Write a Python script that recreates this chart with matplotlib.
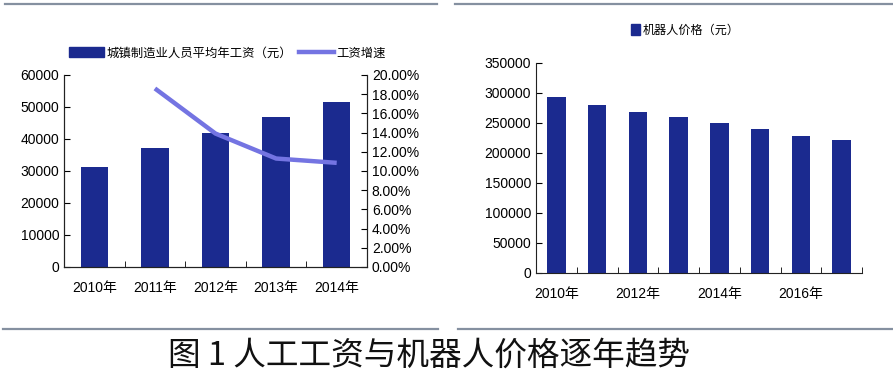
import numpy as np
import matplotlib.pyplot as plt
from matplotlib.lines import Line2D
from matplotlib.patches import Patch
from matplotlib.ticker import FuncFormatter

plt.rcParams['font.family'] = ['Liberation Sans', 'Noto Sans CJK SC', 'DejaVu Sans']

# left chart data
wage_years = ['2010年', '2011年', '2012年', '2013年', '2014年']
wages = [31200, 37200, 42000, 46900, 51700]
growth_years = ['2011年', '2012年', '2013年', '2014年']
growth = [0.186, 0.139, 0.113, 0.1085]

# right chart data
robot_years = ['2010年', '2011年', '2012年', '2013年', '2014年', '2015年', '2016年', '2017年']
robot_prices = [293000, 280000, 269000, 260000, 250000, 240000, 229000, 221000]

bar_color = '#1b2a8f'
line_color = '#7474e2'
rule_color = '#8590a0'

fig = plt.figure(figsize=(8.93, 3.78), dpi=100)

# ---- left: wages + growth ----
ax1 = fig.add_axes([64/893, 1-267/378, (367-64)/893, (267-75)/378])
x1 = np.arange(len(wage_years))
ax1.bar(x1, wages, width=0.45, color=bar_color)
ax1.set_xlim(-0.5, len(wage_years) - 0.5)
ax1.set_ylim(0, 60000)
ax1.set_yticks(np.arange(0, 60001, 10000))
ax1.set_xticks(x1)
ax1.set_xticklabels(wage_years)
ax1.set_xticks(np.arange(0.5, len(wage_years) - 1, 1), minor=True)
ax1.tick_params(axis='x', which='major', length=0, pad=10, labelsize=10)
ax1.tick_params(axis='x', which='minor', length=4, direction='in')
ax1.tick_params(axis='y', length=4, direction='in', labelsize=10)
ax1.spines['top'].set_visible(False)

ax2 = ax1.twinx()
gx = [wage_years.index(y) for y in growth_years]
ax2.plot(gx, growth, color=line_color, lw=3.2, solid_capstyle='butt')
ax2.set_ylim(0, 0.2)
ax2.set_yticks(np.arange(0, 0.2001, 0.02))
ax2.yaxis.set_major_formatter(FuncFormatter(lambda v, p: f'{v*100:.2f}%'))
ax2.tick_params(axis='y', length=4, direction='in', labelsize=10)
ax2.spines['top'].set_visible(False)
for a in (ax1, ax2):
    for s in a.spines.values():
        s.set_color('#222222')
        s.set_linewidth(0.8)

fig.legend(handles=[Patch(color=bar_color, label='城镇制造业人员平均年工资（元）'),
                    Line2D([], [], color=line_color, lw=3.2, label='工资增速')],
           loc='center left', bbox_to_anchor=(58/893, 1-53/378), ncol=2, frameon=False,
           handlelength=2.8, handleheight=0.9, handletextpad=0.2,
           columnspacing=0.6, prop={'family': ['Noto Sans CJK SC'], 'size': 8.9})

# ---- right: robot price ----
ax3 = fig.add_axes([536/893, 1-273/378, (862-536)/893, (273-63)/378])
x3 = np.arange(len(robot_years))
ax3.bar(x3, robot_prices, width=0.46, color=bar_color)
ax3.set_xlim(-0.5, len(robot_years) - 0.5)
ax3.set_ylim(0, 350000)
ax3.set_yticks(np.arange(0, 350001, 50000))
ax3.set_xticks(x3[::2])
ax3.set_xticklabels(robot_years[::2])
ax3.set_xticks(np.arange(0.5, len(robot_years), 1), minor=True)
ax3.tick_params(axis='x', which='major', length=0, pad=10, labelsize=10)
ax3.tick_params(axis='x', which='minor', length=4, direction='in')
ax3.tick_params(axis='y', length=4, direction='in', labelsize=10)
ax3.spines['top'].set_visible(False)
ax3.spines['right'].set_visible(False)
for s in ax3.spines.values():
    s.set_color('#222222')
    s.set_linewidth(0.8)

fig.legend(handles=[Patch(color=bar_color, label='机器人价格（元）')],
           loc='center', bbox_to_anchor=(685/893, 1-30/378), frameon=False,
           handlelength=0.75, handleheight=1.0, handletextpad=0.2,
           prop={'family': ['Noto Sans CJK SC'], 'size': 8.7})

# rules and caption
for (xa, xb, y) in [(5, 437, 4), (455, 892, 4), (3, 438, 329), (458, 892, 329)]:
    fig.add_artist(Line2D([xa/893, xb/893], [1-y/378, 1-y/378], color=rule_color, lw=1.6))

fig.text(429/893, 1-356/378, '图 1 人工工资与机器人价格逐年趋势', ha='center', va='center',
         fontsize=23.5, family=['Noto Sans CJK SC'], fontweight='light', color='#111111')

fig.savefig('out.png', dpi=100)
